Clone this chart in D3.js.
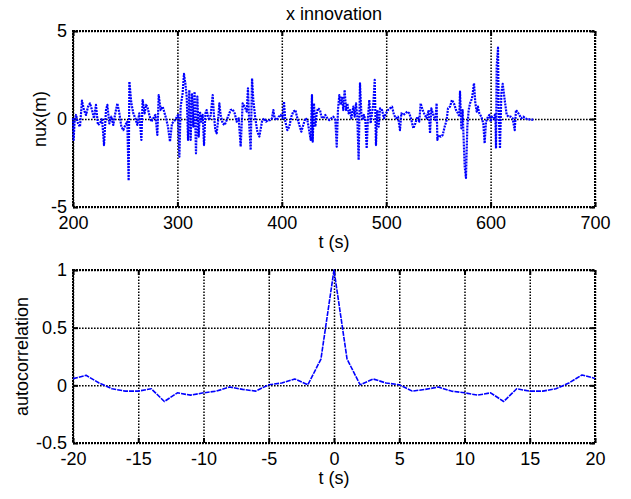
<!DOCTYPE html>
<meta charset="utf-8">
<style>
    body { margin: 0; background: #fff; }
    text { font-family: "Liberation Sans", Arial, sans-serif; font-size: 18px; fill: #000; }
    .grid line { stroke: #000; stroke-width: 1.5; stroke-dasharray: 1.6, 1.4; }
    .ticks line { stroke: #000; stroke-width: 2; }
    .frame { fill: none; stroke: #000; stroke-width: 2; stroke-dasharray: 2, 1; }
</style>
<svg id="chart" width="631" height="499"></svg>
<script src="https://d3js.org/d3.v7.min.js"></script>
<script>
// x innovation as [t (s), nux (m)]
var innov200 = [[200.0, 0.04], [200.6, -1.19], [201.6, -0.06], [202.9, 0.23], [204.8, -0.25], [206.7, -0.44],
    [208.6, 1.04], [210.5, 0.51], [212.5, 0.23], [214.4, 0.70], [216.3, 0.89], [218.2, 0.51], [220.1, 0.04],
    [222.0, 0.80], [223.9, -0.34], [225.9, -0.25], [227.8, 0.04], [229.7, -1.48], [231.6, 0.51], [232.9, 0.80],
    [234.8, -0.25], [236.7, 0.13], [238.6, -0.34], [240.5, 0.32], [242.5, 0.89], [244.4, 0.32], [246.3, -0.44],
    [248.2, -0.63], [250.1, -0.34], [252.0, -0.15], [253.3, -3.5], [254.0, 2.12], [255.9, 0.89], [257.8, 0.32],
    [259.7, 0.04], [261.6, -0.34], [263.5, 0.32], [265.5, -1.19], [266.7, 1.08], [268.6, 0.32], [269.9, 0.80],
    [271.2, 0.70], [273.1, 0.23], [275.0, -0.15], [276.9, 0.04], [278.9, 0.23], [280.8, -0.91], [282.1, 1.36],
    [284.0, 0.51], [285.9, 0.70], [287.8, 0.32], [289.1, 0.04]];
var innov300 = [[291.0, -0.44], [292.9, -1.29], [294.8, -0.25], [296.7, -0.15], [298.7, 0.04], [300.6, 0.23],
    [301.9, -2.14], [303.1, 0.70], [305.0, 1.46], [306.3, 2.56], [307.6, 2.03], [308.9, 1.27], [310.2, -1.19],
    [311.4, 1.65], [312.7, -1.19], [314.0, 1.46], [315.3, -0.44], [316.5, 1.55], [317.8, -1.95], [319.1, 1.27],
    [320.4, -1.00], [321.6, 0.42], [322.9, -0.15], [324.2, 0.23], [325.5, -1.48], [326.8, 0.32], [328.0, 0.51],
    [329.3, 0.13], [330.6, -0.06], [331.9, 0.23], [333.8, 1.36], [335.1, 0.13], [336.3, -0.63], [337.6, -0.81],
    [338.9, -0.15], [340.2, 0.89], [341.4, 0.23], [343.4, -0.25], [345.3, -0.34], [347.2, -0.06], [349.1, 0.23],
    [351.0, 0.51], [352.9, 0.55], [354.9, 0.32], [356.8, -0.15], [358.7, 0.04], [360.6, -1.57], [362.5, 0.89],
    [364.4, 0.70], [366.4, 0.42], [367.6, 1.74], [368.9, -0.44], [370.2, -1.76], [371.5, 2.31], [372.7, 1.08],
    [374.6, 0.04], [376.6, -0.72], [378.5, -1.00]];
var innov400 = [[381.0, -0.15], [383.0, 0.04], [384.9, -0.15], [386.8, -0.06], [388.7, -0.06], [390.6, 0.04],
    [391.9, 0.51], [393.2, 0.04], [395.1, -0.06], [397.0, 0.13], [398.9, 0.23], [400.8, 0.04], [402.1, 0.98],
    [403.4, -0.15], [405.3, -0.63], [407.2, -0.44], [409.1, 0.13], [411.0, 0.42], [413.0, 0.51], [414.9, 0.04],
    [416.8, -0.34], [418.7, -0.72], [420.6, -0.34], [422.5, 0.04], [424.5, -0.06], [426.4, -0.72], [427.7, -1.19],
    [428.9, 1.36], [429.6, -1.29], [430.8, 0.89], [432.1, -0.44], [433.4, 0.32], [434.7, 0.61], [436.6, 0.51],
    [437.9, 0.13], [439.8, 0.04], [441.7, 0.23], [443.6, 0.04], [445.5, -0.06], [447.4, 0.04], [449.4, 0.13],
    [451.3, -0.06], [452.6, -1.57], [453.8, 0.51], [455.1, 1.36], [456.4, 0.80], [457.7, 1.27], [458.9, 0.51],
    [460.2, 1.65], [461.5, 0.51], [462.8, 0.89], [464.0, 0.32], [465.3, 0.51], [466.6, 0.04]];
var innov500 = [[468.5, 0.70], [469.8, 0.13], [471.1, 0.89], [472.3, 0.13], [473.6, -2.33], [474.9, 2.03],
    [476.2, 0.32], [477.5, -0.06], [478.7, 0.23], [480.0, -0.06], [481.3, -1.67], [482.6, 0.13], [483.8, 1.08],
    [485.1, -0.25], [486.4, 0.32], [487.7, 0.89], [489.0, 2.22], [490.2, -1.48], [491.5, 0.51], [492.8, -0.44],
    [494.1, 0.61], [496.0, 0.51], [497.9, 0.04], [499.8, 0.32], [501.7, 0.51], [503.6, 0.61], [505.6, 0.70],
    [507.5, 0.23], [509.4, 0.04], [511.3, 0.13], [513.2, -0.63], [514.5, 0.32], [516.4, 0.23], [518.3, 0.32],
    [520.2, 0.42], [522.2, 0.32], [524.1, -0.06], [526.0, -0.53], [527.9, -0.25], [529.8, 0.13], [531.7, -0.15],
    [533.0, 0.89], [534.9, 0.51], [536.9, 0.23], [538.8, 0.04], [540.7, 0.51], [542.0, -0.81], [543.2, 0.61],
    [545.1, 0.23], [547.1, -0.06], [548.3, 0.89], [549.0, -1.19], [550.3, -0.91], [552.2, -1.00], [554.1, -0.91],
    [556.0, -0.44], [557.9, -0.06], [559.2, 0.61]];
var innov600 = [[561.1, 0.70], [563.0, 1.08], [564.9, 0.89], [566.9, 0.51], [568.8, 0.32], [570.0, 0.13],
    [570.7, 1.55], [572.0, -0.53], [573.2, 0.51], [573.9, -0.72], [575.2, -2.71], [576.4, -3.35], [577.7, -0.44],
    [579.0, 0.51], [580.3, 0.89], [582.2, 1.17], [584.1, 2.03], [585.4, 0.89], [586.7, 0.42], [587.9, 0.70],
    [589.2, 0.32], [591.1, 0.13], [593.0, -0.25], [594.3, -1.38], [595.6, -0.15], [597.5, 0.13], [598.8, 0.23],
    [600.1, -0.15], [601.3, 0.13], [603.3, 0.04], [604.5, 0.32], [605.2, -1.67], [605.8, 2.97], [607.1, 4.05],
    [607.7, 0.51], [609.0, -1.67], [610.3, 1.46], [611.6, 2.0], [613.5, 1.08], [615.4, 0.23], [617.3, 0.13],
    [619.2, 0.13], [621.1, 0.04], [623.1, -0.63], [624.3, 0.51], [625.6, 0.42], [627.5, 0.23], [629.4, 0.04],
    [631.4, 0.13], [633.3, 0.04], [635.2, -0.02], [637.1, -0.02], [639.0, -0.04], [640.9, -0.04]];

// autocorrelation of the innovation
var lags = [-20, -19, -18, -17, -16, -15, -14, -13, -12, -11, -10, -9, -8, -7, -6, -5, -4, -3, -2, -1,
    0, 1, 2, 3, 4, 5, 6, 7, 8, 9, 10, 11, 12, 13, 14, 15, 16, 17, 18, 19, 20];
var acorr = [0.058, 0.087, 0.02, -0.03, -0.05, -0.05, -0.03, -0.14, -0.065, -0.085, -0.065, -0.05, -0.015, -0.035,
    -0.05, 0.005, 0.02, 0.055, 0.005, 0.228,
    1, 0.228, 0.005, 0.055, 0.02, 0.005, -0.05, -0.035, -0.015, -0.05, -0.065, -0.085, -0.065, -0.14, -0.03,
    -0.05, -0.05, -0.03, 0.02, 0.09, 0.06];

var topXTicks = [200, 300, 400, 500, 600, 700];
var topYTicks = [-5, 0, 5];
var botXTicks = [-20, -15, -10, -5, 0, 5, 10, 15, 20];
var botYTicks = [-0.5, 0, 0.5, 1];

var svg = d3.select("#chart");

// plain hyphen for negatives, like the original
function fmt(d) { return String(d); }

function panel(p) {
    var x = d3.scaleLinear().domain(p.xDomain).range([p.left, p.right]);
    var y = d3.scaleLinear().domain(p.yDomain).range([p.bottom, p.top]);
    var w = p.right - p.left, h = p.bottom - p.top;
    var g = svg.append("g");

    // dotted grid
    g.append("g").attr("class", "grid")
        .attr("transform", "translate(0," + p.bottom + ")")
        .call(d3.axisBottom(x).tickValues(p.xTicks).tickSize(-h).tickFormat(""))
        .call(function (s) { s.select(".domain").remove(); });
    g.append("g").attr("class", "grid")
        .attr("transform", "translate(" + p.left + ",0)")
        .call(d3.axisLeft(y).tickValues(p.yTicks).tickSize(-w).tickFormat(""))
        .call(function (s) { s.select(".domain").remove(); });

    g.append("rect").attr("class", "frame")
        .attr("x", p.left).attr("y", p.top).attr("width", w).attr("height", h);

    // inward tick marks on all four sides
    var sides = [
        [d3.axisBottom(x).tickValues(p.xTicks), "translate(0," + p.bottom + ")"],
        [d3.axisTop(x).tickValues(p.xTicks), "translate(0," + p.top + ")"],
        [d3.axisLeft(y).tickValues(p.yTicks), "translate(" + p.left + ",0)"],
        [d3.axisRight(y).tickValues(p.yTicks), "translate(" + p.right + ",0)"]
    ];
    sides.forEach(function (s) {
        g.append("g").attr("class", "ticks").attr("transform", s[1])
            .call(s[0].tickSize(-5).tickFormat(""))
            .call(function (a) { a.select(".domain").remove(); });
    });

    // tick labels
    g.append("g").attr("transform", "translate(0," + p.bottom + ")")
        .call(d3.axisBottom(x).tickValues(p.xTicks).tickSize(0).tickPadding(9).tickFormat(fmt))
        .call(function (a) { a.select(".domain").remove(); });
    g.append("g").attr("transform", "translate(" + p.left + ",0)")
        .call(d3.axisLeft(y).tickValues(p.yTicks).tickSize(0).tickPadding(6).tickFormat(fmt))
        .call(function (a) { a.select(".domain").remove(); });
    svg.selectAll("g").attr("font-size", null).attr("font-family", null);

    var line = d3.line().x(function (d) { return x(d[0]); }).y(function (d) { return y(d[1]); });
    g.append("path").datum(p.data)
        .attr("fill", "none")
        .attr("stroke", "#0000ff")
        .attr("stroke-width", p.lineWidth)
        .attr("stroke-dasharray", p.dash)
        .attr("stroke-linejoin", "round")
        .attr("d", line);

    var cx = (p.left + p.right) / 2;
    if (p.title) {
        g.append("text").attr("x", cx).attr("y", p.top - 11).attr("text-anchor", "middle").text(p.title);
    }
    g.append("text").attr("x", cx).attr("y", p.bottom + 41).attr("text-anchor", "middle").text(p.xLabel);
    g.append("text")
        .attr("transform", "translate(" + p.yLabelX + "," + ((p.top + p.bottom) / 2) + ") rotate(-90)")
        .attr("text-anchor", "middle")
        .text(p.yLabel);
}

panel({
    left: 73, right: 595, top: 31, bottom: 207,
    xDomain: [200, 700], yDomain: [-5, 5],
    xTicks: topXTicks, yTicks: topYTicks,
    data: innov200.concat(innov300, innov400, innov500, innov600),
    lineWidth: 2.2, dash: "2,1",
    title: "x innovation", xLabel: "t (s)", yLabel: "nux(m)", yLabelX: 46
});

panel({
    left: 73, right: 595, top: 270, bottom: 443,
    xDomain: [-20, 20], yDomain: [-0.5, 1],
    xTicks: botXTicks, yTicks: botYTicks,
    data: d3.zip(lags, acorr),
    lineWidth: 1.6, dash: "5,1",
    xLabel: "t (s)", yLabel: "autocorrelation", yLabelX: 28
});
</script>
